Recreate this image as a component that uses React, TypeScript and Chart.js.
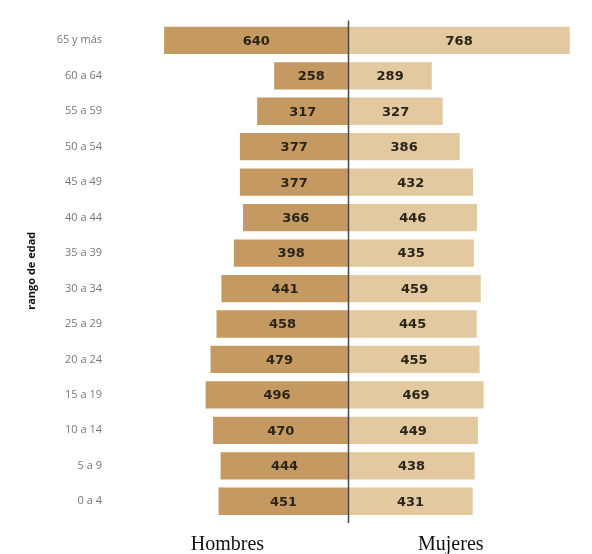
import React, { useEffect, useRef } from "react";
import { Chart, registerables } from "chart.js";

Chart.register(...registerables);

const categories = [
  "65 y más", "60 a 64", "55 a 59", "50 a 54", "45 a 49", "40 a 44", "35 a 39",
  "30 a 34", "25 a 29", "20 a 24", "15 a 19", "10 a 14", "5 a 9", "0 a 4",
];
const hombres = [640, 258, 317, 377, 377, 366, 398, 441, 458, 479, 496, 470, 444, 451];
const mujeres = [768, 289, 327, 386, 432, 446, 435, 459, 445, 455, 469, 449, 438, 431];
const seriesNames = ["Hombres", "Mujeres"];
const axisTitle = "rango de edad";

export default function App() {
  const ref = useRef<HTMLCanvasElement | null>(null);

  useEffect(() => {
    if (!ref.current) return;
    const overlay = {
      id: "overlay",
      afterDatasetsDraw(chart: any) {
        const ctx = chart.ctx;
        const x = chart.scales.x;
        const area = chart.chartArea;
        ctx.save();
        // value labels
        ctx.font = "bold 13px 'DejaVu Sans'";
        ctx.fillStyle = "#2b2418";
        ctx.textAlign = "center";
        ctx.textBaseline = "middle";
        chart.data.datasets.forEach((ds: any, di: number) => {
          const meta = chart.getDatasetMeta(di);
          meta.data.forEach((bar: any, i: number) => {
            const v = Math.abs(ds.data[i]);
            const cx = (bar.x + bar.base) / 2;
            ctx.fillText(String(v), cx, bar.y + 1);
          });
        });
        // center line
        const x0 = x.getPixelForValue(0);
        ctx.strokeStyle = "#4a4a4a";
        ctx.lineWidth = 1.5;
        ctx.beginPath();
        ctx.moveTo(x0, area.top - 2);
        ctx.lineTo(x0, area.bottom + 4);
        ctx.stroke();
        // series names
        ctx.font = "20px 'Liberation Serif'";
        ctx.fillStyle = "#111";
        ctx.textBaseline = "alphabetic";
        ctx.fillText(seriesNames[0], x.getPixelForValue(-420), area.bottom + 31);
        ctx.fillText(seriesNames[1], x.getPixelForValue(355), area.bottom + 31);
        ctx.restore();
      },
    };

    const chart = new Chart(ref.current, {
      type: "bar",
      data: {
        labels: categories,
        datasets: [
          {
            label: seriesNames[0],
            data: hombres.map((v) => -v),
            backgroundColor: "#c49a62",
            barPercentage: 0.77,
            categoryPercentage: 1,
          },
          {
            label: seriesNames[1],
            data: mujeres,
            backgroundColor: "#e2c99f",
            barPercentage: 0.77,
            categoryPercentage: 1,
          },
        ],
      },
      options: {
        indexAxis: "y",
        animation: false,
        responsive: false,
        maintainAspectRatio: false,
        layout: { padding: { top: 14, bottom: 35, right: 5, left: 17 } },
        plugins: {
          legend: { display: false },
          tooltip: { enabled: false },
        },
        scales: {
          x: {
            stacked: true,
            min: -800,
            max: 800,
            display: false,
          },
          y: {
            stacked: true,
            grid: { display: false },
            border: { display: false },
            ticks: {
              color: "#777",
              font: { family: "'Open Sans'", size: 11 },
              padding: 8,
            },
            title: {
              display: true,
              text: axisTitle,
              color: "#111",
              font: { family: "'Open Sans'", size: 11, weight: "bold" },
              padding: { top: 0, bottom: 6 },
            },
            afterFit(scale: any) {
              scale.width = 93;
            },
          },
        },
      },
      plugins: [overlay],
    } as any);
    return () => chart.destroy();
  }, []);

  return <canvas ref={ref} width={576} height={546} style={{ display: "block" }} />;
}
